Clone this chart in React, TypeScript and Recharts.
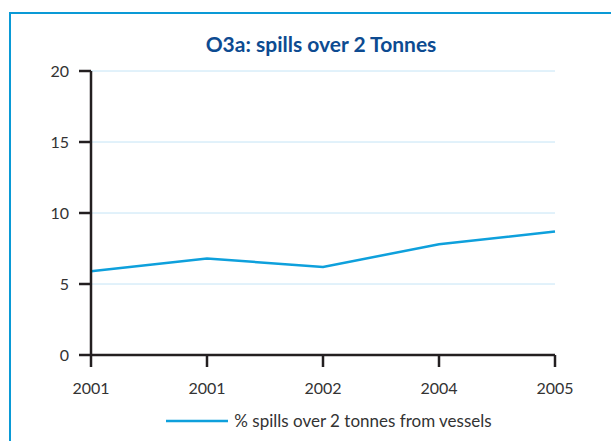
import { LineChart, Line, XAxis, YAxis, CartesianGrid, Legend } from "recharts";

const years = ["2001", "2001", "2002", "2004", "2005"];
const spillsOver2t = [5.9, 6.8, 6.2, 7.8, 8.7];
const yTicks = [0, 5, 10, 15, 20];

const data = years.map((year, i) => ({ year, spills: spillsOver2t[i] }));

const FONT = "Lato, 'Open Sans', sans-serif";
const LINE_BLUE = "#0ea0dc";
const AXIS = "#231f20";

function LegendContent() {
	return (
		<div
			style={{
				display: "flex",
				alignItems: "center",
				justifyContent: "center",
				fontFamily: FONT,
				fontSize: 17,
				color: "#333",
				paddingLeft: 72,
			}}
		>
			<svg width={62} height={4} style={{ marginRight: 6 }}>
				<line x1={0} y1={2} x2={62} y2={2} stroke={LINE_BLUE} strokeWidth={2.5} />
			</svg>
			<span>% spills over 2 tonnes from vessels</span>
		</div>
	);
}

export default function App() {
	return (
		<div
			style={{
				position: "absolute",
				left: 0,
				top: 0,
				width: 611,
				height: 441,
				overflow: "hidden",
				background: "#fff",
			}}
		>
			<div
				style={{
					position: "absolute",
					left: 9,
					top: 12,
					width: 640,
					height: 480,
					border: "2px solid #0a9ad6",
				}}
			/>
			<div
				style={{
					position: "absolute",
					left: 0,
					top: 31,
					width: 642,
					textAlign: "center",
					fontFamily: FONT,
					fontWeight: 700,
					fontSize: 21,
					color: "#0d4b91",
				}}
			>
				O3a: spills over 2 Tonnes
			</div>
			<div style={{ position: "absolute", left: 0, top: 0 }}>
				<LineChart
					width={611}
					height={441}
					data={data}
					margin={{ top: 71, right: 56, left: 31, bottom: 26 }}
				>
					<CartesianGrid
						vertical={false}
						stroke="#c4e4f6"
						strokeWidth={1}
					/>
					<XAxis
						dataKey="year"
						allowDuplicatedCategory
						height={40}
						tickSize={12}
						tickMargin={16}
						axisLine={{ stroke: AXIS, strokeWidth: 2.5 }}
						tickLine={{ stroke: AXIS, strokeWidth: 2.5 }}
						tick={{ fill: "#333", fontSize: 16, fontFamily: FONT }}
					/>
					<YAxis
						width={60}
						domain={[0, 20]}
						ticks={yTicks}
						tickSize={12}
						tickMargin={10}
						axisLine={{ stroke: AXIS, strokeWidth: 2.5 }}
						tickLine={{ stroke: AXIS, strokeWidth: 2.5 }}
						tick={{ fill: "#333", fontSize: 16, fontFamily: FONT }}
					/>
					<Legend
						verticalAlign="bottom"
						height={20}
						wrapperStyle={{ bottom: 11, height: 20 }}
						content={<LegendContent />}
					/>
					<Line
						type="linear"
						dataKey="spills"
						name="% spills over 2 tonnes from vessels"
						stroke={LINE_BLUE}
						strokeWidth={2.5}
						dot={false}
						activeDot={false}
						isAnimationActive={false}
					/>
				</LineChart>
			</div>
		</div>
	);
}
